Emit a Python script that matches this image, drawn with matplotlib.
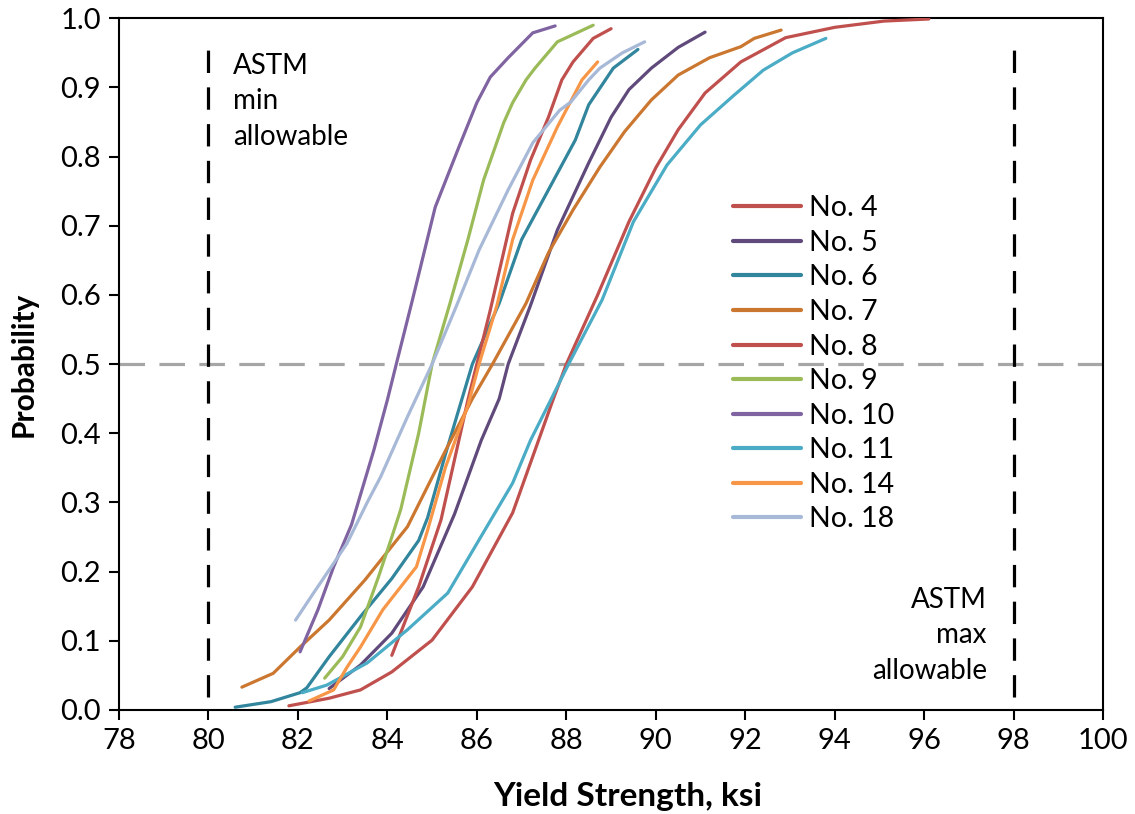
import matplotlib
matplotlib.use("Agg")
import matplotlib.pyplot as plt

plt.rcParams['font.family'] = ['Lato', 'DejaVu Sans']

# ---- data ----
series_names = ["No. 4", "No. 5", "No. 6", "No. 7", "No. 8",
                "No. 9", "No. 10", "No. 11", "No. 14", "No. 18"]

x4 = [81.8, 82.7, 83.4, 84.1, 85.0, 85.9, 86.8, 87.7, 88.0, 88.7, 89.4, 90.0, 90.5, 91.1, 91.9, 92.9, 94.0, 95.1, 96.1]
p4 = [0.006, 0.017, 0.029, 0.055, 0.101, 0.178, 0.285, 0.448, 0.50, 0.600, 0.706, 0.784, 0.839, 0.892, 0.937, 0.972, 0.987, 0.996, 0.999]

x5 = [82.7, 83.4, 84.1, 84.8, 85.5, 86.1, 86.5, 86.7, 87.2, 87.8, 88.5, 89.0, 89.4, 89.9, 90.5, 91.1]
p5 = [0.031, 0.065, 0.111, 0.178, 0.283, 0.39, 0.45, 0.5, 0.585, 0.694, 0.791, 0.857, 0.897, 0.928, 0.958, 0.98]

x6 = [80.6, 81.4, 82.05, 82.2, 82.7, 83.4, 84.1, 84.7, 84.9, 85.3, 85.9, 86.5, 87.0, 87.6, 88.2, 88.5, 89.05, 89.6]
p6 = [0.004, 0.012, 0.025, 0.032, 0.077, 0.135, 0.19, 0.245, 0.278, 0.37, 0.5, 0.588, 0.68, 0.752, 0.824, 0.875, 0.928, 0.955]

x7 = [80.75, 81.45, 82.05, 82.7, 83.5, 84.45, 85.3, 85.9, 86.35, 87.1, 87.6, 88.15, 88.75, 89.3, 89.9, 90.5, 91.2, 91.9, 92.2, 92.8]
p7 = [0.033, 0.053, 0.091, 0.13, 0.188, 0.265, 0.375, 0.45, 0.5, 0.588, 0.661, 0.723, 0.785, 0.836, 0.882, 0.918, 0.943, 0.959, 0.971, 0.983]

x8 = [84.1, 84.7, 85.2, 85.8, 86.0, 86.3, 86.8, 87.2, 87.6, 87.9, 88.15, 88.6, 89.0]
p8 = [0.079, 0.178, 0.275, 0.448, 0.5, 0.578, 0.718, 0.795, 0.857, 0.911, 0.937, 0.971, 0.985]

x9 = [82.6, 83.0, 83.4, 83.8, 84.1, 84.3, 84.7, 85.0, 85.4, 85.8, 86.15, 86.6, 86.8, 87.1, 87.3, 87.8, 88.6]
p9 = [0.046, 0.077, 0.12, 0.192, 0.25, 0.29, 0.40, 0.5, 0.588, 0.68, 0.766, 0.849, 0.878, 0.911, 0.928, 0.966, 0.990]

x10 = [82.05, 82.45, 82.8, 83.2, 83.7, 84.0, 84.2, 84.55, 85.07, 85.6, 86.0, 86.3, 86.7, 87.25, 87.75]
p10 = [0.084, 0.145, 0.207, 0.268, 0.376, 0.448, 0.5, 0.59, 0.727, 0.814, 0.878, 0.915, 0.943, 0.979, 0.989]

x11 = [82.1, 82.65, 83.55, 84.45, 85.35, 86.05, 86.8, 87.2, 87.65, 88.05, 88.8, 89.5, 90.25, 91.0, 91.75, 92.4, 93.05, 93.8]
p11 = [0.025, 0.036, 0.068, 0.116, 0.169, 0.246, 0.328, 0.39, 0.448, 0.5, 0.593, 0.706, 0.788, 0.846, 0.889, 0.925, 0.95, 0.971]

x14 = [82.25, 82.8, 83.1, 83.4, 83.9, 84.65, 84.9, 85.3, 85.8, 86.05, 86.45, 86.8, 87.25, 87.8, 88.35, 88.7]
p14 = [0.013, 0.029, 0.062, 0.091, 0.145, 0.207, 0.26, 0.351, 0.44, 0.5, 0.585, 0.68, 0.766, 0.843, 0.911, 0.937]

x18 = [81.95, 82.35, 82.8, 83.1, 83.55, 83.85, 84.45, 85.0, 85.55, 86.05, 86.7, 87.25, 87.85, 88.1, 88.5, 88.75, 89.25, 89.75]
p18 = [0.13, 0.169, 0.212, 0.241, 0.30, 0.337, 0.424, 0.5, 0.585, 0.665, 0.752, 0.82, 0.867, 0.879, 0.911, 0.928, 0.95, 0.966]

series_x = [x4, x5, x6, x7, x8, x9, x10, x11, x14, x18]
series_p = [p4, p5, p6, p7, p8, p9, p10, p11, p14, p18]
colors = ["#C0504D", "#604A7B", "#31859C", "#CB7730", "#C0504D",
          "#9BBB59", "#8064A2", "#4BACC6", "#F79646", "#A7B9D7"]

astm_min = 80
astm_max = 98
median_p = 0.5
x_ticks = list(range(78, 101, 2))
y_ticks = [i / 10 for i in range(0, 11)]

# ---- figure ----
fig = plt.figure(figsize=(11.35, 8.14), dpi=100)
ax = fig.add_axes([0.1047, 0.1278, 0.8674, 0.8497])

for xs, ps, c, name in zip(series_x, series_p, colors, series_names):
    ax.plot(xs, ps, color=c, lw=2.3, label=name, solid_joinstyle='round',
            solid_capstyle='round', zorder=3)

ax.plot([astm_min, astm_min], [0.019, 0.964], color='black', lw=2.3,
        dashes=(7, 4.5), zorder=2)
ax.plot([astm_max, astm_max], [0.019, 0.964], color='black', lw=2.3,
        dashes=(7, 4.5), zorder=2)
ax.axhline(median_p, color='#A6A6A6', lw=2.3, dashes=(8, 4.5), zorder=1)

ax.set_xlim(78, 100)
ax.set_ylim(0, 1.0)
ax.set_xticks(x_ticks)
ax.set_yticks(y_ticks)
ax.set_yticklabels([f"{v:.1f}" for v in y_ticks])
ax.tick_params(axis='both', direction='out', length=7, width=1.5,
               labelsize=21, colors='black', pad=6)
for s in ax.spines.values():
    s.set_linewidth(1.5)
    s.set_color('black')

ax.set_xlabel("Yield Strength, ksi", fontsize=24, fontweight='bold')
ax.xaxis.set_label_coords(0.517, -0.104)
ax.set_ylabel("Probability", fontsize=21.5, fontweight='bold', labelpad=16)

ax.text(80.55, 0.95, "ASTM\nmin\nallowable", fontsize=20, va='top', ha='left',
        linespacing=1.45)
ax.text(97.4, 0.178, "ASTM\nmax\nallowable", fontsize=20, va='top', ha='right',
        multialignment='right', linespacing=1.45)

leg = fig.legend(loc='upper left', bbox_to_anchor=(0.6457, 0.760), frameon=False,
                 fontsize=20.5, handlelength=2.39, handletextpad=0.3,
                 labelspacing=0.3, borderpad=0, borderaxespad=0)
for h in leg.get_lines():
    h.set_linewidth(3.0)

fig.savefig("out.png", dpi=100)
